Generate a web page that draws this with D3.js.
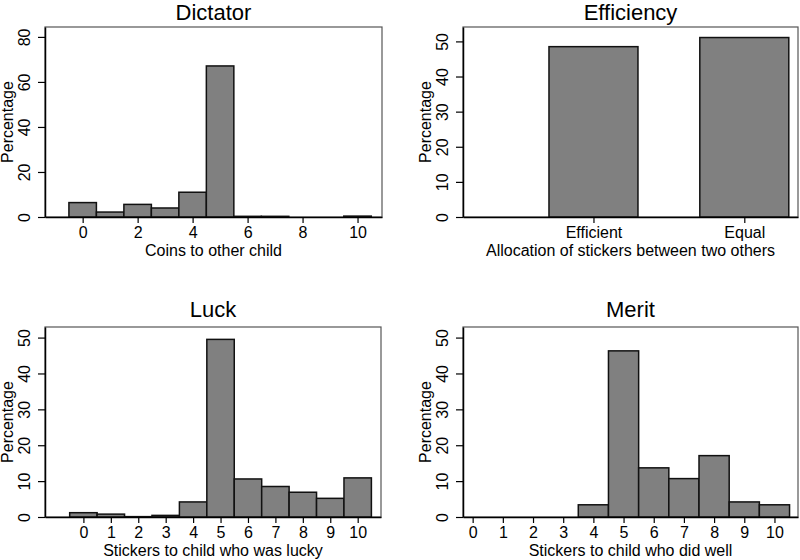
<!DOCTYPE html>
<html>
<head>
<meta charset="utf-8">
<script src="https://cdn.jsdelivr.net/npm/d3@7"></script>
<style>
  html, body { margin: 0; padding: 0; background: #fff; }
  svg { display: block; font-family: "Liberation Sans", Arial, Helvetica, sans-serif; }
</style>
</head>
<body>
<svg id="chart" width="800" height="560"></svg>
<script>
// ---- Data ----
const dictatorCategories = [0, 1, 2, 3, 4, 5, 6, 7, 8, 9, 10];
const dictatorValues = [6.4, 2.2, 5.6, 4.0, 11.0, 67.1, 0.3, 0.3, 0, 0, 0.4];
const dictatorTicks = [0, 2, 4, 6, 8, 10];
const dictatorYTicks = [0, 20, 40, 60, 80];

const efficiencyCategories = ["Efficient", "Equal"];
const efficiencyValues = [48.5, 51.1];
const efficiencyYTicks = [0, 10, 20, 30, 40, 50];

const luckCategories = [0, 1, 2, 3, 4, 5, 6, 7, 8, 9, 10];
const luckValues = [1.2, 0.8, 0.1, 0.45, 4.2, 49.5, 10.6, 8.5, 6.9, 5.2, 10.9];
const luckTicks = [0, 1, 2, 3, 4, 5, 6, 7, 8, 9, 10];
const luckYTicks = [0, 10, 20, 30, 40, 50];

const meritCategories = [0, 1, 2, 3, 4, 5, 6, 7, 8, 9, 10];
const meritValues = [0, 0, 0, 0, 3.4, 46.3, 13.7, 10.7, 17.1, 4.2, 3.4];
const meritTicks = [0, 1, 2, 3, 4, 5, 6, 7, 8, 9, 10];
const meritYTicks = [0, 10, 20, 30, 40, 50];

const titles = ["Dictator", "Efficiency", "Luck", "Merit"];
const xTitles = ["Coins to other child", "Allocation of stickers between two others",
                 "Stickers to child who was lucky", "Stickers to child who did well"];

// ---- Layout ----
const svg = d3.select("#chart");
const BAR_FILL = "#808080";

function panel(cfg) {
  const { left, right, top, bottom, xDomain, yMax, cats, vals, barW, xTicks, xTickFmt,
          yTicks, title, xTitle, titleY } = cfg;
  const g = svg.append("g");
  const x = d3.scaleLinear().domain(xDomain).range([left, right]);
  const y = d3.scaleLinear().domain([0, yMax]).range([bottom, top]);

  // frame
  g.append("rect")
    .attr("x", left).attr("y", top)
    .attr("width", right - left).attr("height", bottom - top)
    .attr("fill", "none").attr("stroke", "#555").attr("stroke-width", 1.2);

  // bars
  g.selectAll("rect.bar").data(cats.map((c, i) => ({ c, v: vals[i], i })))
    .enter().append("rect")
    .attr("class", "bar")
    .attr("x", d => x(cfg.pos(d)) - (x(barW) - x(0)) / 2)
    .attr("width", d => x(barW) - x(0))
    .attr("y", d => y(d.v))
    .attr("height", d => y(0) - y(d.v))
    .attr("fill", BAR_FILL)
    .attr("stroke", "#111")
    .attr("stroke-width", 1.5);

  // y axis
  const ya = g.append("g").attr("transform", `translate(${left},0)`)
    .call(d3.axisLeft(y).tickValues(yTicks).tickSize(7).tickPadding(0).tickSizeOuter(0));
  ya.select(".domain").attr("stroke", "#000").attr("stroke-width", 1.5);
  ya.selectAll(".tick line").attr("stroke", "#000").attr("stroke-width", 1.2);
  ya.selectAll(".tick text")
    .attr("x", null).attr("dy", null)
    .attr("transform", "translate(-15,0) rotate(-90)")
    .attr("text-anchor", "middle")
    .attr("font-size", 16)
    .attr("font-family", "Liberation Sans, Arial, sans-serif")
    .attr("fill", "#000");

  // x axis
  const xa = g.append("g").attr("transform", `translate(0,${bottom})`)
    .call(d3.axisBottom(x).tickValues(xTicks).tickFormat(xTickFmt).tickSize(6).tickSizeOuter(0));
  xa.select(".domain").attr("stroke", "#000").attr("stroke-width", 1.5);
  xa.selectAll(".tick line").attr("stroke", "#000").attr("stroke-width", 1.2);
  xa.selectAll(".tick text")
    .attr("y", 21).attr("dy", null)
    .attr("font-size", 16)
    .attr("font-family", "Liberation Sans, Arial, sans-serif")
    .attr("fill", "#000");

  // titles
  const cx = (left + right) / 2;
  g.append("text").attr("x", cx).attr("y", titleY)
    .attr("text-anchor", "middle").attr("font-size", 22).attr("fill", "#000").text(title);
  g.append("text").attr("x", cx).attr("y", bottom + 39)
    .attr("text-anchor", "middle").attr("font-size", 16).attr("fill", "#000").text(xTitle);
  g.append("text")
    .attr("transform", `translate(${left - 32.5},${(top + bottom) / 2}) rotate(-90)`)
    .attr("text-anchor", "middle").attr("font-size", 16).attr("fill", "#000").text("Percentage");
}

panel({ left: 45, right: 382, top: 27, bottom: 217, xDomain: [-1.37, 10.89], yMax: 84.4,
  cats: dictatorCategories, vals: dictatorValues, barW: 1, pos: d => d.c,
  xTicks: dictatorTicks, xTickFmt: d3.format("d"), yTicks: dictatorYTicks,
  title: titles[0], xTitle: xTitles[0], titleY: 20 });

panel({ left: 463, right: 798, top: 27, bottom: 217, xDomain: [0.135, 2.356], yMax: 54.1,
  cats: efficiencyCategories, vals: efficiencyValues, barW: 0.59, pos: d => d.i + 1,
  xTicks: [1, 2], xTickFmt: (d) => efficiencyCategories[d - 1], yTicks: efficiencyYTicks,
  title: titles[1], xTitle: xTitles[1], titleY: 20 });

panel({ left: 45, right: 381, top: 327, bottom: 517, xDomain: [-1.4, 10.85], yMax: 52.95,
  cats: luckCategories, vals: luckValues, barW: 1, pos: d => d.c,
  xTicks: luckTicks, xTickFmt: d3.format("d"), yTicks: luckYTicks,
  title: titles[2], xTitle: xTitles[2], titleY: 317 });

panel({ left: 463, right: 798, top: 327, bottom: 517, xDomain: [-0.32, 10.78], yMax: 52.95,
  cats: meritCategories, vals: meritValues, barW: 1, pos: d => d.c,
  xTicks: meritTicks, xTickFmt: d3.format("d"), yTicks: meritYTicks,
  title: titles[3], xTitle: xTitles[3], titleY: 317 });
</script>
</body>
</html>
